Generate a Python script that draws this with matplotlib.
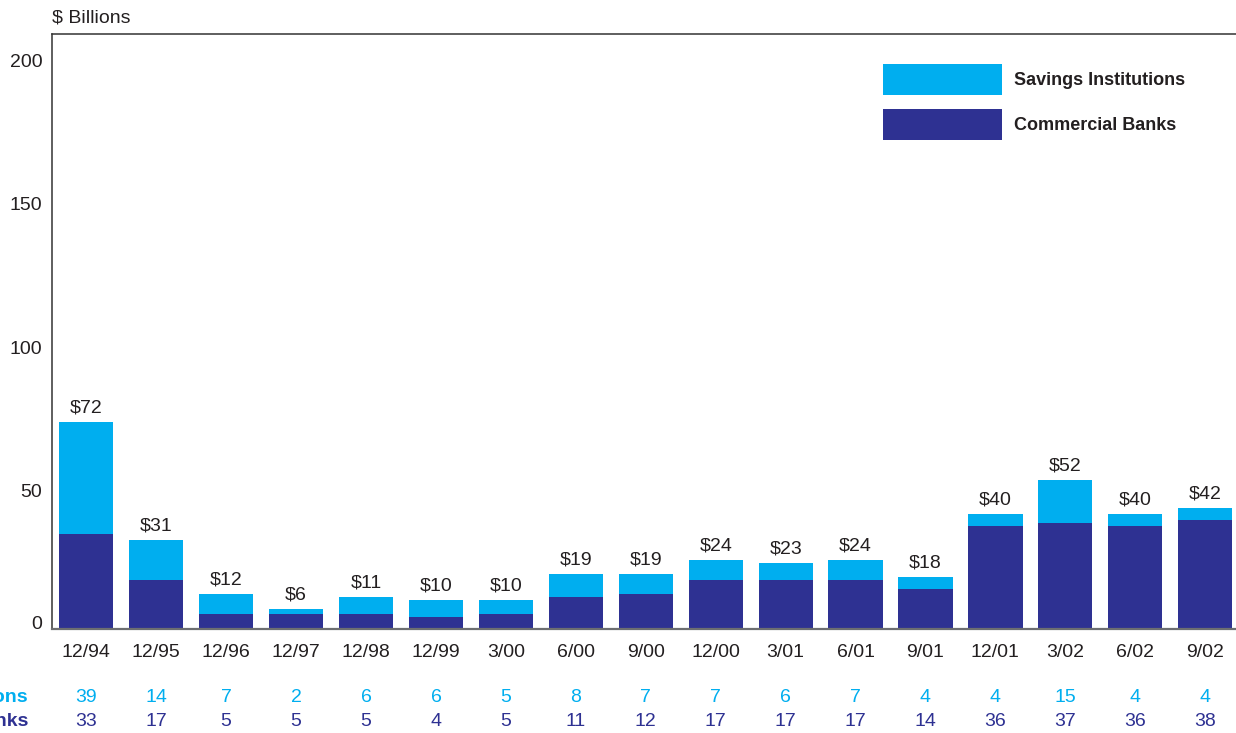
import matplotlib
matplotlib.use("Agg")
import matplotlib.pyplot as plt
import matplotlib.transforms as mtransforms
import numpy as np

plt.rcParams['font.family'] = ['Liberation Sans', 'DejaVu Sans']

categories = ["12/94", "12/95", "12/96", "12/97", "12/98", "12/99", "3/00", "6/00",
              "9/00", "12/00", "3/01", "6/01", "9/01", "12/01", "3/02", "6/02", "9/02"]
savings = [39, 14, 7, 2, 6, 6, 5, 8, 7, 7, 6, 7, 4, 4, 15, 4, 4]
commercial = [33, 17, 5, 5, 5, 4, 5, 11, 12, 17, 17, 17, 14, 36, 37, 36, 38]
totals = [72, 31, 12, 6, 11, 10, 10, 19, 19, 24, 23, 24, 18, 40, 52, 40, 42]
yticks = [0, 50, 100, 150, 200]

CYAN = "#00AEEF"
NAVY = "#2E3192"
TXT = "#231F20"

W, H = 1236, 733
fig = plt.figure(figsize=(W / 100, H / 100), dpi=100)
ax = fig.add_axes([52 / W, 1 - 628.7 / H, 1 - 52 / W, (628.7 - 34) / H])

x = np.arange(len(categories))
bw = 0.775
ax.bar(x, commercial, width=bw, color=NAVY, label="Commercial Banks", zorder=2)
ax.bar(x, savings, width=bw, bottom=commercial, color=CYAN, label="Savings Institutions", zorder=2)

for xi, c, s, t in zip(x, commercial, savings, totals):
    ax.annotate(f"${t}", (xi, c + s), xytext=(0, 4), textcoords="offset points",
                ha="center", va="bottom", fontsize=14, color=TXT)

ax.set_xlim(-0.49, len(categories) - 0.56)
ax.set_ylim(0, 207.5)
ax.set_yticks(yticks)
ax.set_yticklabels([str(v) for v in yticks])
ax.set_xticks(x)
ax.set_xticklabels(categories)
ax.tick_params(axis="y", length=0, pad=7, labelsize=14, labelcolor=TXT)
ax.tick_params(axis="x", length=0, pad=11, labelsize=14, labelcolor=TXT)

# the original's y labels sit slightly below their gridline values; "0" sits above the axis
for lab, v in zip(ax.get_yticklabels(), yticks):
    dy = 6 if v == 0 else -5
    lab.set_transform(lab.get_transform() +
                      mtransforms.ScaledTranslation(0, dy / 100, fig.dpi_scale_trans))

ax.spines["right"].set_visible(False)
ax.spines["top"].set_color("#333333")
ax.spines["left"].set_color("#333333")
ax.spines["bottom"].set_color("#6d6e71")
ax.spines["bottom"].set_linewidth(1.6)
for s in ["top", "left"]:
    ax.spines[s].set_linewidth(1.1)

fig.text(52 / W, 1 - 18 / H, "$ Billions", ha="left", va="center", fontsize=14, color=TXT)

# data rows below the axis
row1_y = 1 - 698 / H
row2_y = 1 - 721 / H
for xi, s, c in zip(x, savings, commercial):
    xf = fig.transFigure.inverted().transform(ax.transData.transform((xi, 0)))[0]
    fig.text(xf, row1_y, str(s), ha="center", va="center", fontsize=14, color=CYAN)
    fig.text(xf, row2_y, str(c), ha="center", va="center", fontsize=14, color=NAVY)
fig.text(28 / W, row1_y, "Savings Institutions", ha="right", va="center", fontsize=14,
         color=CYAN, fontweight="bold")
fig.text(28 / W, row2_y, "Commercial Banks", ha="right", va="center", fontsize=14,
         color=NAVY, fontweight="bold")

handles, labels = ax.get_legend_handles_labels()
leg = ax.legend(handles[::-1], labels[::-1], loc="upper left",
                bbox_to_anchor=(883 / W, 1 - 64 / H), bbox_transform=fig.transFigure,
                frameon=False, prop={"weight": "bold", "size": 13},
                handlelength=6.6, handleheight=2.26, labelspacing=0.8,
                handletextpad=0.66, borderpad=0, borderaxespad=0)
for t in leg.get_texts():
    t.set_color(TXT)

fig.savefig("out.png", dpi=100)
